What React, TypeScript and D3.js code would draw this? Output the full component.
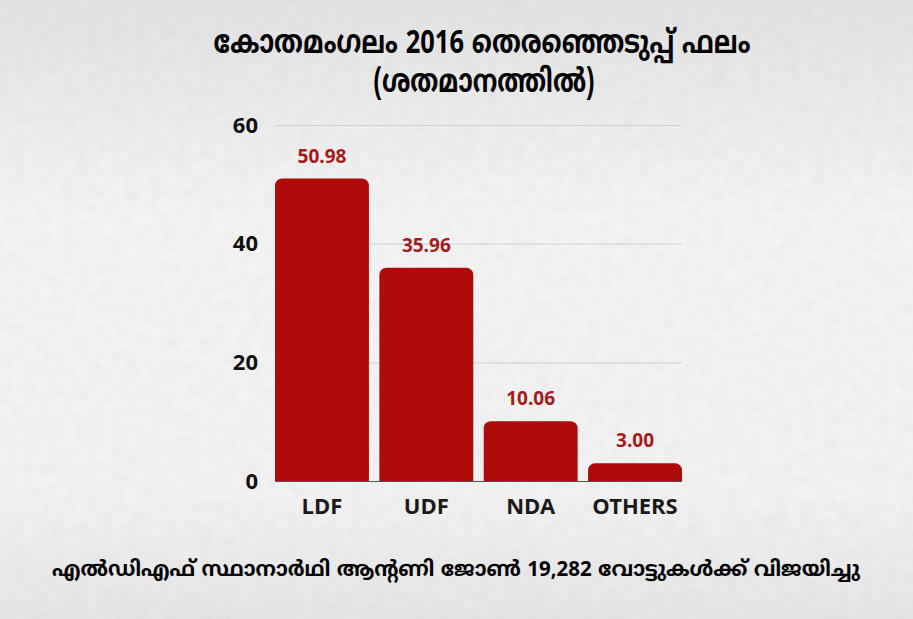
import * as d3 from "d3";
import React, { useEffect, useRef } from "react";

const parties = ["LDF", "UDF", "NDA", "OTHERS"];
const shares = [50.98, 35.96, 10.06, 3.0];
const yTicks = [0, 20, 40, 60];
const titleLines = ["കോതമംഗലം 2016 തെരഞ്ഞെടുപ്പ് ഫലം", "(ശതമാനത്തിൽ)"];
const caption = "എൽഡിഎഫ് സ്ഥാനാർഥി ആന്റണി ജോൺ 19,282 വോട്ടുകൾക്ക് വിജയിച്ചു";

const width = 913;
const height = 619;
const margin = { left: 275, right: 231, top: 125, bottom: 138 };
const font = "'Noto Sans Malayalam', 'Noto Sans', 'Open Sans', sans-serif";
const barColor = "#b00b0b";

function topRoundedBar(x: number, y: number, w: number, h: number, r: number) {
  const rr = Math.min(r, h, w / 2);
  const p = d3.path();
  p.moveTo(x, y + h);
  p.lineTo(x, y + rr);
  p.arcTo(x, y, x + rr, y, rr);
  p.lineTo(x + w - rr, y);
  p.arcTo(x + w, y, x + w, y + rr, rr);
  p.lineTo(x + w, y + h);
  p.closePath();
  return p.toString();
}

export default function App() {
  const gRef = useRef<SVGGElement>(null);
  const innerWidth = width - margin.left - margin.right;
  const innerHeight = height - margin.top - margin.bottom;

  useEffect(() => {
    const x = d3.scaleBand<string>()
      .domain(parties)
      .range([0, innerWidth])
      .paddingInner(0.1)
      .paddingOuter(0);

    const y = d3.scaleLinear().domain([0, 60]).range([innerHeight, 0]);

    const g = d3.select(gRef.current);
    g.selectAll("*").remove();

    // grid + y labels
    const yAxis = d3.axisLeft(y)
      .tickValues(yTicks)
      .tickSize(-innerWidth)
      .tickPadding(17)
      .tickFormat(d3.format("d"));
    const yG = g.append("g").call(yAxis);
    yG.select(".domain").remove();
    yG.selectAll(".tick line")
      .attr("stroke", (d: any) => (d === 0 ? "#555" : "#cfcfcf"))
      .attr("stroke-width", 1);
    yG.selectAll(".tick text")
      .attr("fill", "#111")
      .attr("font-size", 22)
      .attr("font-weight", 700)
      .attr("font-family", font);

    const data = parties.map((p, i) => ({ party: p, value: shares[i] }));

    g.append("g")
      .selectAll("path")
      .data(data)
      .join("path")
      .attr("d", (d) =>
        topRoundedBar(x(d.party)!, y(d.value), x.bandwidth(), innerHeight - y(d.value), 7)
      )
      .attr("fill", barColor);

    g.append("g")
      .selectAll("text")
      .data(data)
      .join("text")
      .attr("x", (d) => x(d.party)! + x.bandwidth() / 2)
      .attr("y", (d) => y(d.value) - 16)
      .attr("text-anchor", "middle")
      .attr("fill", "#a51a1a")
      .attr("font-size", 19)
      .attr("font-weight", 700)
      .attr("font-family", font)
      .text((d) => d.value.toFixed(2));

    const xAxis = d3.axisBottom(x).tickSize(0).tickPadding(17);
    const xG = g.append("g").attr("transform", `translate(0,${innerHeight})`).call(xAxis);
    xG.select(".domain").remove();
    xG.selectAll(".tick text")
      .attr("fill", "#1a1a1a")
      .attr("font-size", 22)
      .attr("font-weight", 700)
      .attr("font-family", font);
  }, []);

  return (
    <svg
      width={width}
      height={height}
      style={{ position: "absolute", left: 0, top: 0 }}
    >
      <defs>
        <filter id="noise" x="0" y="0" width="100%" height="100%">
          <feTurbulence type="fractalNoise" baseFrequency="0.08" numOctaves="3" seed="4" />
          <feColorMatrix
            type="matrix"
            values="0 0 0 0 0.55  0 0 0 0 0.55  0 0 0 0 0.55  0 0 0 0.4 -0.08"
          />
        </filter>
        <linearGradient id="fade" x1="0" y1="0" x2="0" y2="1">
          <stop offset="0" stopColor="#e3e3e3" />
          <stop offset="0.35" stopColor="#f5f5f5" />
          <stop offset="0.8" stopColor="#f3f3f3" />
          <stop offset="1" stopColor="#e6e6e6" />
        </linearGradient>
      </defs>
      <rect width={width} height={height} fill="url(#fade)" />
      <rect width={width} height={height} filter="url(#noise)" opacity={0.6} />
      <g fontFamily={font} fontWeight={700} fill="#000" textAnchor="middle">
        <text x={482} y={53} fontSize={32} textLength={537} lengthAdjust="spacingAndGlyphs">
          {titleLines[0]}
        </text>
        <text x={484} y={92} fontSize={32} textLength={221} lengthAdjust="spacingAndGlyphs">
          {titleLines[1]}
        </text>
        <text x={456} y={576} fontSize={21} textLength={808} lengthAdjust="spacingAndGlyphs">
          {caption}
        </text>
      </g>
      <g ref={gRef} transform={`translate(${margin.left},${margin.top})`} />
    </svg>
  );
}
